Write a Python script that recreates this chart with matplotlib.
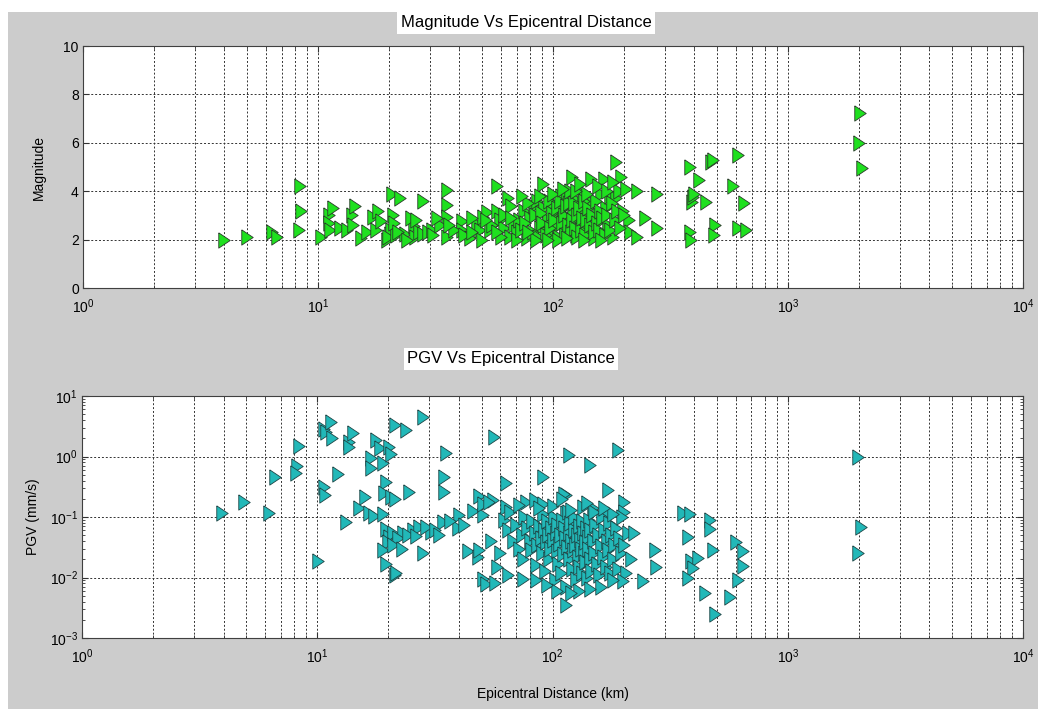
import numpy as np
import matplotlib.pyplot as plt
from matplotlib.patches import Rectangle
from matplotlib.ticker import LogLocator, NullFormatter, MultipleLocator

plt.rcParams['font.family'] = ['Liberation Sans', 'DejaVu Sans']

# Magnitude vs epicentral distance (top panel)
mag_pts = [
    (4.0, 2.0), (5.0, 2.1), (6.35, 2.3), (6.7, 2.1), (8.4, 4.2), (8.5, 3.2), (8.3, 2.4),
    (10.3, 2.1), (11.1, 3.0), (11.1, 2.7), (11.2, 2.4), (11.6, 3.3), (12.4, 2.5), (13.3, 2.4),
    (13.9, 3.0), (14.4, 3.4), (14.1, 2.6), (15.3, 2.05), (16.1, 2.3), (17.2, 2.95), (17.7, 2.4),
    (18.0, 3.2), (18.6, 2.75), (19.6, 2.0), (20.6, 3.9), (20.9, 3.0), (20.2, 2.25), (20.4, 2.4),
    (22.3, 3.7), (19.8, 2.1), (21.5, 2.2), (23.4, 2.25), (25.5, 2.55), (24.8, 2.9), (25.9, 2.1),
    (27.0, 2.3), (28.1, 2.25), (29.5, 2.3), (28.1, 3.6), (30.5, 2.4), (35.3, 4.05), (35.3, 3.45),
    (35.3, 2.95), (35.3, 2.1), (40.9, 2.75), (40.9, 2.4), (44.3, 2.05), (47.6, 2.65), (50.4, 2.95),
    (48.9, 2.4), (52.6, 3.15), (53.9, 2.4), (57.6, 4.2), (57.6, 3.2), (59.5, 2.8), (64.6, 3.7),
    (21.0, 2.7), (22.0, 2.3), (24.0, 2.0), (26.0, 2.8), (31.0, 2.2), (33.0, 2.6), (38.0, 2.4),
    (32.0, 2.9), (36.0, 2.6), (42.0, 2.2), (45.0, 2.9),
    (62.0, 2.5), (65.5, 2.1), (68.0, 2.6), (70.0, 2.3), (72.0, 2.8), (75.0, 3.2), (77.3, 2.05),
    (80.0, 2.9), (83.0, 3.4), (85.3, 3.6), (88.0, 2.5), (91.0, 4.3), (92.0, 3.3), (95.0, 2.8),
    (100.0, 3.5), (100.0, 2.2), (103.0, 3.0), (105.0, 2.6), (108.0, 3.8), (110.0, 3.3),
    (112.0, 2.4), (115.0, 3.7), (118.0, 2.9), (120.0, 4.6), (122.0, 3.2), (125.0, 2.2),
    (128.0, 3.6), (130.0, 2.7), (134.0, 3.9), (136.0, 3.1), (140.0, 2.4), (145.0, 4.5),
    (148.0, 3.5), (150.0, 2.05), (155.0, 3.0), (160.0, 3.9), (165.0, 4.5), (168.0, 3.3),
    (172.0, 2.6), (175.0, 3.8), (180.0, 2.1), (185.0, 5.2), (186.0, 3.7), (190.0, 4.0),
    (195.0, 4.6), (198.0, 3.2), (205.0, 4.1), (210.0, 2.8), (212.0, 2.3), (228.0, 4.0),
    (246.0, 2.9), (276.0, 3.9), (276.0, 2.5), (228.0, 2.1),
    (62.0, 3.0), (66.0, 3.4), (70.0, 2.0), (73.0, 2.4), (76.0, 2.7), (78.0, 3.5), (82.0, 2.3),
    (84.0, 3.0), (86.0, 2.1), (89.0, 3.1), (90.0, 2.7), (93.0, 2.2), (96.0, 3.6), (97.0, 2.5),
    (99.0, 3.1), (101.0, 2.8), (104.0, 3.3), (106.0, 2.1), (107.0, 3.6), (109.0, 2.7),
    (111.0, 3.0), (113.0, 2.2), (114.0, 3.4), (116.0, 2.6), (117.0, 3.5), (119.0, 2.3),
    (121.0, 2.8), (123.0, 3.5), (124.0, 2.5), (126.0, 3.0), (127.0, 2.1), (129.0, 3.3),
    (131.0, 2.4), (133.0, 2.9), (135.0, 3.6), (137.0, 2.2), (138.0, 2.8), (141.0, 3.3),
    (143.0, 2.6), (146.0, 3.0), (149.0, 2.3), (152.0, 3.6), (154.0, 2.7), (157.0, 2.4),
    (159.0, 3.2), (162.0, 2.9), (166.0, 2.2), (170.0, 3.0), (174.0, 2.4), (178.0, 3.5),
    (183.0, 2.8), (188.0, 3.2), (193.0, 2.5), (200.0, 3.0), (105.0, 2.0), (115.0, 2.05),
    (135.0, 2.0), (95.0, 2.0), (85.0, 2.0), (160.0, 2.0), (60.0, 2.1), (55.0, 2.6), (50.0, 2.0),
    (45.0, 2.3), (52.0, 2.8), (58.0, 2.3), (66.0, 2.9), (74.0, 3.8), (78.0, 2.3), (88.0, 3.8),
    (118.0, 4.0), (140.0, 3.9), (155.0, 4.2), (170.0, 4.0), (180.0, 4.4), (125.0, 4.0),
    (100.0, 3.9), (130.0, 4.3), (110.0, 4.1),
    (382.0, 5.0), (420.0, 4.46), (470.0, 5.2), (478.0, 5.3), (610.0, 5.5), (581.0, 4.2),
    (390.0, 3.57), (395.0, 3.75), (400.0, 3.9), (448.0, 3.57), (651.0, 3.5), (382.0, 2.33),
    (385.0, 2.0), (488.0, 2.6), (485.0, 2.2), (615.0, 2.47), (660.0, 2.4),
    (2020.0, 7.22), (2010.0, 6.0), (2070.0, 4.97),
]

# PGV vs epicentral distance (bottom panel)
pgv_pts = [
    (3.93, 0.118), (4.89, 0.179), (6.25, 0.118), (6.63, 0.45), (8.38, 1.49), (8.2, 0.70),
    (8.1, 0.54), (10.1, 0.019), (10.7, 0.316), (10.8, 0.23), (10.7, 2.8), (10.9, 2.57),
    (11.4, 3.76), (11.5, 2.0), (12.2, 0.51), (13.2, 0.084), (13.7, 1.76), (13.7, 1.45),
    (14.2, 2.4), (15.9, 0.217), (15.1, 0.139), (16.6, 0.118), (17.5, 0.104), (19.0, 0.112),
    (17.8, 1.9), (18.4, 1.36), (16.9, 0.93), (16.9, 0.65), (19.0, 0.79), (20.2, 1.45),
    (20.6, 1.1), (19.6, 0.38), (19.3, 0.245), (20.6, 0.217), (21.3, 0.195), (19.6, 0.0625),
    (20.2, 0.047), (20.0, 0.039), (19.0, 0.0285), (19.6, 0.0167), (21.3, 0.011), (21.3, 3.3),
    (28.1, 4.5), (23.8, 2.74), (35.3, 1.13), (34.7, 0.46), (34.7, 0.26), (24.6, 0.26),
    (56.6, 2.13), (118.0, 1.06), (144.0, 0.72), (190.0, 1.28), (91.0, 0.46), (63.5, 0.37),
    (172.0, 0.28), (202.0, 0.18), (202.0, 0.12), (114.0, 0.23),
    (20.9, 0.054), (23.1, 0.054), (25.5, 0.062), (27.2, 0.069), (30.5, 0.057), (29.0, 0.069),
    (28.1, 0.025), (21.6, 0.0117), (34.2, 0.084), (40.2, 0.107), (39.5, 0.066), (45.8, 0.125),
    (50.6, 0.107), (48.9, 0.22), (55.8, 0.19), (63.5, 0.148), (50.6, 0.165), (53.9, 0.179),
    (43.6, 0.027), (48.2, 0.022), (50.6, 0.0095), (52.2, 0.0078), (48.9, 0.028),
    (22.0, 0.045), (24.2, 0.05), (26.3, 0.048), (31.8, 0.06), (33.0, 0.05), (36.5, 0.085),
    (42.0, 0.075), (21.0, 0.035), (23.0, 0.03),
    (77.3, 0.179), (84.0, 0.19), (91.0, 0.165), (114.0, 0.115), (112.0, 0.24), (135.0, 0.148),
    (149.0, 0.14), (172.0, 0.115),
    (62.0, 0.09), (65.0, 0.06), (68.0, 0.04), (70.0, 0.075), (72.0, 0.03), (74.0, 0.05),
    (75.0, 0.02), (76.0, 0.1), (78.0, 0.065), (80.0, 0.04), (81.0, 0.028), (82.0, 0.085),
    (84.0, 0.055), (85.0, 0.016), (86.0, 0.035), (88.0, 0.07), (89.0, 0.045), (90.0, 0.025),
    (91.0, 0.11), (92.0, 0.06), (93.0, 0.013), (94.0, 0.038), (95.0, 0.085), (96.0, 0.05),
    (97.0, 0.02), (98.0, 0.03), (99.0, 0.065), (100.0, 0.042), (101.0, 0.1), (102.0, 0.009),
    (103.0, 0.055), (104.0, 0.027), (105.0, 0.075), (106.0, 0.017), (107.0, 0.036),
    (108.0, 0.05), (109.0, 0.012), (110.0, 0.09), (111.0, 0.024), (112.0, 0.065),
    (113.0, 0.045), (114.0, 0.007), (115.0, 0.032), (116.0, 0.12), (117.0, 0.055),
    (118.0, 0.02), (119.0, 0.08), (120.0, 0.04), (121.0, 0.014), (122.0, 0.028), (123.0, 0.06),
    (124.0, 0.1), (125.0, 0.035), (126.0, 0.0095), (127.0, 0.05), (128.0, 0.022), (129.0, 0.07),
    (130.0, 0.015), (131.0, 0.042), (132.0, 0.03), (133.0, 0.085), (134.0, 0.012),
    (135.0, 0.055), (136.0, 0.025), (137.0, 0.038), (138.0, 0.018), (139.0, 0.065),
    (140.0, 0.01), (141.0, 0.047), (142.0, 0.03), (143.0, 0.09), (144.0, 0.02), (145.0, 0.06),
    (146.0, 0.013), (148.0, 0.04), (150.0, 0.025), (152.0, 0.075), (154.0, 0.017),
    (156.0, 0.05), (158.0, 0.011), (160.0, 0.033), (162.0, 0.1), (164.0, 0.022), (166.0, 0.06),
    (168.0, 0.015), (170.0, 0.04), (172.0, 0.028), (174.0, 0.08), (176.0, 0.012), (178.0, 0.05),
    (180.0, 0.02), (183.0, 0.035), (186.0, 0.065), (189.0, 0.014), (192.0, 0.045),
    (195.0, 0.025), (198.0, 0.1), (202.0, 0.035), (205.0, 0.012), (210.0, 0.055),
    (215.0, 0.02), (223.0, 0.054), (242.0, 0.0089), (272.0, 0.0285), (276.0, 0.0147),
    (200.0, 0.0089), (180.0, 0.009), (160.0, 0.007), (145.0, 0.0065), (130.0, 0.006),
    (120.0, 0.0055), (114.0, 0.0035), (105.0, 0.006), (95.0, 0.0075), (85.0, 0.009),
    (75.0, 0.0095), (65.0, 0.011), (60.0, 0.025), (58.0, 0.015), (55.0, 0.04), (57.0, 0.008),
    (100.0, 0.15), (120.0, 0.13), (150.0, 0.12), (180.0, 0.11), (110.0, 0.2), (88.0, 0.14),
    (140.0, 0.17), (165.0, 0.14), (66.0, 0.12), (72.0, 0.16),
    (358.0, 0.115), (383.0, 0.11), (466.0, 0.089), (466.0, 0.064), (377.0, 0.047),
    (481.0, 0.028), (389.0, 0.019), (415.0, 0.021), (395.0, 0.0145), (377.0, 0.0097),
    (443.0, 0.0055), (489.0, 0.0025), (567.0, 0.0048), (604.0, 0.039), (645.0, 0.027),
    (645.0, 0.0155), (615.0, 0.0091),
    (1992.0, 0.99), (2046.0, 0.068), (1980.0, 0.0257),
]

dist_m = np.array([p[0] for p in mag_pts])
mag = np.array([p[1] for p in mag_pts])
dist_p = np.array([p[0] for p in pgv_pts])
pgv = np.array([p[1] for p in pgv_pts])

# MATLAB-like right pointing triangle (taller than wide)
tri = [(-0.375, 0.5), (0.375, 0.0), (-0.375, -0.5), (-0.375, 0.5)]

fig = plt.figure(figsize=(10.38, 7.09), dpi=100, facecolor='white')
fig.patches.append(Rectangle((8 / 1038, 0), 1 - 8 / 1038, 1 - 12 / 709,
                             transform=fig.transFigure, facecolor='#cccccc',
                             edgecolor='none', zorder=-10))

ax1 = fig.add_axes([83 / 1038, 1 - 288 / 709, 940 / 1038, 242 / 709])
ax2 = fig.add_axes([82 / 1038, 1 - 638 / 709, 941 / 1038, 242 / 709])

ax1.plot(dist_m, mag, linestyle='none', marker=tri, ms=11,
         mfc='#1fe01f', mec='#2a3a2a', mew=0.6)
ax2.plot(dist_p, pgv, linestyle='none', marker=tri, ms=11,
         mfc='#22b8b8', mec='#1d4545', mew=0.6)

for ax in (ax1, ax2):
    ax.set_facecolor('white')
    ax.set_xscale('log')
    ax.set_xlim(1, 1e4)
    ax.xaxis.set_major_locator(LogLocator(base=10, numticks=10))
    ax.xaxis.set_minor_locator(LogLocator(base=10, subs=np.arange(2, 10), numticks=10))
    ax.xaxis.set_minor_formatter(NullFormatter())
    ax.grid(True, which='major', axis='both', color='#333333', linestyle=(0, (2, 2)), linewidth=0.7)
    ax.grid(True, which='minor', axis='x', color='#333333', linestyle=(0, (2, 2)), linewidth=0.7)
    ax.tick_params(which='both', direction='in', top=True, right=True, labelsize=10,
                   color='#333333')
    ax.tick_params(which='major', length=4)
    ax.tick_params(which='minor', length=2)
    ax.tick_params(axis='x', pad=7)
    ax.tick_params(axis='y', pad=3)
    for s in ax.spines.values():
        s.set_color('#404040')
        s.set_linewidth(0.8)

ax1.set_ylim(0, 10)
ax1.yaxis.set_major_locator(MultipleLocator(2))
ax1.set_ylabel('Magnitude', fontsize=10, labelpad=13)

ax2.set_yscale('log')
ax2.set_ylim(1e-3, 10)
ax2.yaxis.set_major_locator(LogLocator(base=10, numticks=10))
ax2.yaxis.set_minor_locator(LogLocator(base=10, subs=np.arange(2, 10), numticks=10))
ax2.yaxis.set_minor_formatter(NullFormatter())
ax2.set_ylabel('PGV (mm/s)', fontsize=10, labelpad=7)
ax2.set_xlabel('Epicentral Distance (km)', fontsize=10, labelpad=15)

fig.text(526 / 1038, 1 - 23 / 709, 'Magnitude Vs Epicentral Distance', fontsize=12,
         ha='center', va='center',
         bbox=dict(facecolor='white', edgecolor='none', pad=2.5))
fig.text(511 / 1038, 1 - 359 / 709, 'PGV Vs Epicentral Distance', fontsize=12,
         ha='center', va='center',
         bbox=dict(facecolor='white', edgecolor='none', pad=2.5))

fig.savefig('out.png', dpi=100, facecolor=fig.get_facecolor())
